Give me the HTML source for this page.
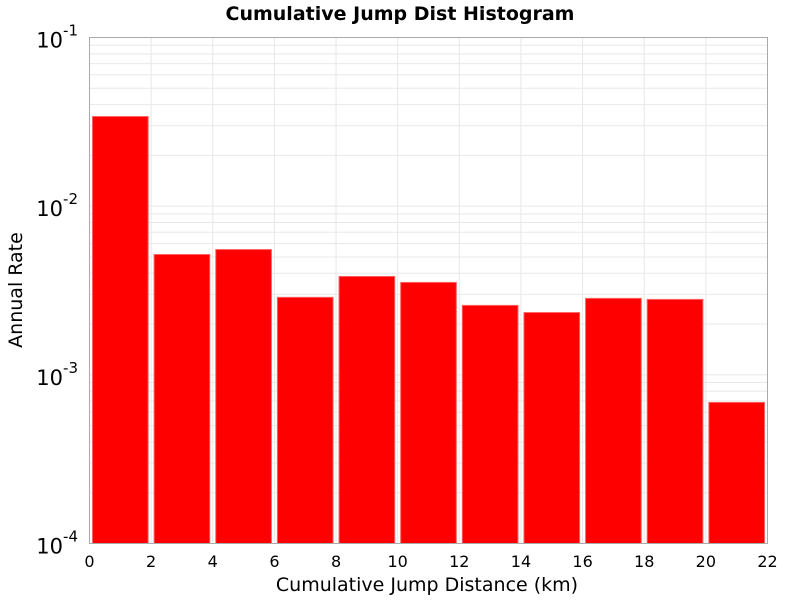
<!DOCTYPE html>
<html><head><meta charset="utf-8"><style>
body{margin:0;background:#fff;font-family:"DejaVu Sans","Liberation Sans",sans-serif}
</style></head><body>
<svg width="800" height="600" xmlns="http://www.w3.org/2000/svg">
<text x="400" y="20" text-anchor="middle" font-size="19" font-weight="bold">Cumulative Jump Dist Histogram</text>
<g id="grid"></g>
<g id="bars"></g>
<rect x="89.5" y="37.5" width="678" height="506" fill="none" stroke="#aaa"/>
<g id="axes"></g>
<text x="427" y="591" text-anchor="middle" font-size="19">Cumulative Jump Distance (km)</text>
<text transform="translate(22,290) rotate(-90)" text-anchor="middle" font-size="19">Annual Rate</text>
</svg>
<script>
const binStarts=[0,2,4,6,8,10,12,14,16,18,20];
const binWidth=2;
const rates=[0.034,0.00517,0.00553,0.00288,0.00383,0.00353,0.00258,0.00234,0.00284,0.0028,0.000686];
const xTicks=[0,2,4,6,8,10,12,14,16,18,20,22];
const yExps=[-4,-3,-2,-1];
const L=89.5,R=767.5,T=37.5,B=543.5;
const xs=v=>L+(v-0)/(22-0)*(R-L);
const ys=v=>B-(Math.log10(v)+4)/3*(B-T);
const NS="http://www.w3.org/2000/svg";
function mk(t,a,p){const e=document.createElementNS(NS,t);for(const k in a)e.setAttribute(k,a[k]);p.appendChild(e);return e;}
const grid=document.getElementById('grid'),bars=document.getElementById('bars'),axes=document.getElementById('axes');
for(let d=-4;d<-1;d++)for(let m=1;m<10;m++){const y=ys(m*Math.pow(10,d));
 const g=mk('line',{x1:L,x2:R,y1:y,y2:y,stroke:'#e8e8e8'},grid);
 
 }
xTicks.forEach(v=>{const x=xs(v);
 const g=mk('line',{x1:x,x2:x,y1:T,y2:B,stroke:'#e8e8e8'},grid);
 
 
 const t=mk('text',{x:x,y:567,'text-anchor':'middle','font-size':16},axes);t.textContent=v;
 
 });
binStarts.forEach((s,i)=>{const x0=xs(s)+3,x1=xs(s+binWidth)-3,y=ys(rates[i]);
 const r=mk('rect',{x:x0,y:y,width:x1-x0,height:B-y,fill:'#ff0000',stroke:'#ff6060','stroke-width':1},bars);
 
 });
yExps.forEach(e=>{const y=ys(Math.pow(10,e));
 const t=mk('text',{x:78,y:y+10,'text-anchor':'end','font-size':21},axes);
 
 
 t.appendChild(document.createTextNode('10'));
 const s=mk('tspan',{dy:-12,'font-size':15},t);s.textContent=e;});
</script>
</body></html>
